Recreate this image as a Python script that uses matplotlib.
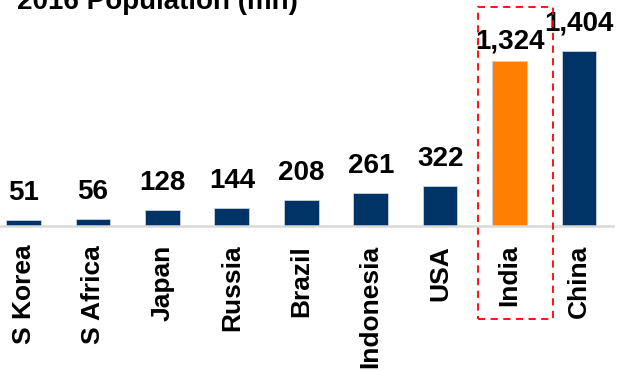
import matplotlib.pyplot as plt
from matplotlib.patches import Rectangle

countries = ["S Korea", "S Africa", "Japan", "Russia", "Brazil",
             "Indonesia", "USA", "India", "China"]
population = [51, 56, 128, 144, 208, 261, 322, 1324, 1404]
highlight = "India"

navy = "#003366"
orange = "#FF8000"

plt.rcParams["font.family"] = ["Liberation Sans", "DejaVu Sans"]

fig = plt.figure(figsize=(6.27, 3.71), dpi=100)
ax = fig.add_axes([0, 0.3908, 0.9777, 0.6092])

colors = [orange if c == highlight else navy for c in countries]
x = range(len(countries))
bars = ax.bar(x, population, width=0.5, color=colors,
              edgecolor="#c8d0dc", linewidth=0.6, zorder=2)

# value labels above each bar
for i, (b, v) in enumerate(zip(bars, population)):
    off = 9 if countries[i] == highlight else 14.5
    ax.annotate(f"{v:,}", (b.get_x() + b.get_width() / 2, v),
                xytext=(0, off), textcoords="offset points",
                ha="center", va="baseline", fontsize=20, fontweight="bold")

ax.set_xlim(-0.339, 8.49)
ax.set_ylim(0, 1813)
ax.set_xticks(list(x))
ax.set_xticklabels(countries, rotation=90, fontsize=19, fontweight="bold")
ax.tick_params(axis="x", length=0, pad=13.5)
ax.set_yticks([])
for s in ["top", "right", "left"]:
    ax.spines[s].set_visible(False)
ax.spines["bottom"].set_color("#d9d9d9")
ax.spines["bottom"].set_linewidth(1.8)

fig.text(17 / 627, 1 - 9 / 371, "2016 Population (mn)", fontsize=20,
         fontweight="bold", ha="left", va="baseline")

# dashed frame around the highlighted country
fig.patches.append(Rectangle((477.7 / 627, 1 - 319 / 371), 75 / 627, 312 / 371,
                             transform=fig.transFigure, fill=False,
                             edgecolor="#FF0000", linestyle=(0, (4, 3)),
                             linewidth=1.3, zorder=5))

fig.savefig("out.png", dpi=100)
